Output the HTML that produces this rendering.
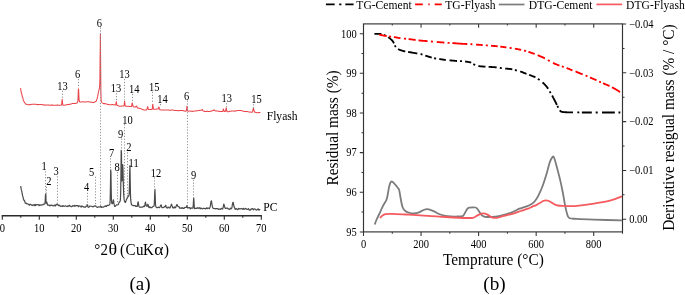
<!DOCTYPE html>
<html><head><meta charset="utf-8"><style>
html,body{margin:0;padding:0;background:#fff;}
body{width:685px;height:295px;overflow:hidden;}
svg{display:block;will-change:transform;}
text{font-family:"Liberation Serif",serif;fill:#000;}
</style></head><body>
<svg width="685" height="295" viewBox="0 0 685 295">

<line x1="1.6999999999999997" y1="215.75" x2="261.90000000000003" y2="215.75" stroke="#2a2a2a" stroke-width="1.3"/>
<path d="M2.3,215.75 V219.85 M20.8,215.75 V217.75 M39.3,215.75 V219.85 M57.8,215.75 V217.75 M76.3,215.75 V219.85 M94.8,215.75 V217.75 M113.3,215.75 V219.85 M131.8,215.75 V217.75 M150.3,215.75 V219.85 M168.8,215.75 V217.75 M187.3,215.75 V219.85 M205.8,215.75 V217.75 M224.3,215.75 V219.85 M242.8,215.75 V217.75 M261.3,215.75 V219.85" stroke="#2a2a2a" stroke-width="1.1" fill="none"/>
<text transform="translate(2.3,231.6) scale(1,1.12)" font-size="10.5" text-anchor="middle">0</text>
<text transform="translate(39.3,231.6) scale(1,1.12)" font-size="10.5" text-anchor="middle">10</text>
<text transform="translate(76.3,231.6) scale(1,1.12)" font-size="10.5" text-anchor="middle">20</text>
<text transform="translate(113.3,231.6) scale(1,1.12)" font-size="10.5" text-anchor="middle">30</text>
<text transform="translate(150.3,231.6) scale(1,1.12)" font-size="10.5" text-anchor="middle">40</text>
<text transform="translate(187.3,231.6) scale(1,1.12)" font-size="10.5" text-anchor="middle">50</text>
<text transform="translate(224.3,231.6) scale(1,1.12)" font-size="10.5" text-anchor="middle">60</text>
<text transform="translate(261.3,231.6) scale(1,1.12)" font-size="10.5" text-anchor="middle">70</text>
<text transform="translate(0,254.8) scale(1,1.07)" font-size="15"><tspan x="94.3">°</tspan><tspan x="100.4">2</tspan><tspan x="120.0">(</tspan><tspan x="125.5">C</tspan><tspan x="136.0">u</tspan><tspan x="142.9">K</tspan><tspan x="164.1">)</tspan></text>
<text transform="translate(108.4,254.8) scale(1.2,1.07)" font-size="15">θ</text>
<text transform="translate(154.2,254.8) scale(1.17,1.07)" font-size="15">α</text>
<text transform="translate(140,290.4) scale(1,1.03)" font-size="19" text-anchor="middle">(a)</text>
<path d="M20.4,88.08L20.65,88.74L20.9,90.39L21.15,92.22L21.4,93.35L21.65,93.67L21.9,94.68L22.15,95.99L22.4,96.84L22.65,97.12L22.9,98.16L23.15,99.53L23.4,100.41L23.65,100.6L23.9,101.2L24.15,101.98L24.4,102.49L24.65,102.58L24.9,102.8L25.15,103.17L25.4,103.59L25.65,103.95L25.9,104.15L26.15,104.19L26.4,104.24L26.65,104.32L26.9,104.4L27.15,104.49L27.4,104.57L27.65,104.62L27.9,104.65L28.15,104.65L28.4,104.65L28.65,104.65L28.9,104.65L29.15,104.65L29.4,104.64L29.65,104.64L29.9,104.63L30.15,104.62L30.4,104.59L30.65,104.56L30.9,104.51L31.15,104.46L31.4,104.4L31.65,104.35L31.9,104.3L32.15,104.27L32.4,104.24L32.65,104.23L32.9,104.22L33.15,104.21L33.4,104.2L33.65,104.19L33.9,104.18L34.15,104.17L34.4,104.16L34.65,104.16L34.9,104.16L35.15,104.16L35.4,104.18L35.65,104.23L35.9,104.28L36.15,104.35L36.4,104.42L36.65,104.49L36.9,104.55L37.15,104.59L37.4,104.62L37.65,104.63L37.9,104.63L38.15,104.62L38.4,104.59L38.65,104.57L38.9,104.54L39.15,104.51L39.4,104.49L39.65,104.48L39.9,104.49L40.15,104.5L40.4,104.52L40.65,104.54L40.9,104.55L41.15,104.57L41.4,104.58L41.65,104.6L41.9,104.61L42.15,104.63L42.4,104.65L42.65,104.66L42.9,104.7L43.15,104.75L43.4,104.81L43.65,104.88L43.9,104.95L44.15,105.01L44.4,105.07L44.65,105.11L44.9,105.13L45.15,105.14L45.4,105.13L45.65,105.1L45.9,105.07L46.15,105.03L46.4,104.99L46.65,104.95L46.9,104.92L47.15,104.9L47.4,104.9L47.65,104.9L47.9,104.92L48.15,104.94L48.4,104.97L48.65,105.01L48.9,105.05L49.15,105.08L49.4,105.12L49.65,105.14L49.9,105.16L50.15,105.17L50.4,105.17L50.65,105.17L50.9,105.16L51.15,105.14L51.4,105.13L51.65,105.11L51.9,105.1L52.15,105.1L52.4,105.11L52.65,105.12L52.9,105.14L53.15,105.16L53.4,105.18L53.65,105.2L53.9,105.23L54.15,105.25L54.4,105.27L54.65,105.29L54.9,105.3L55.15,105.31L55.4,105.3L55.65,105.29L55.9,105.26L56.15,105.23L56.4,105.2L56.65,105.17L56.9,105.14L57.15,105.12L57.4,105.12L57.65,105.12L57.9,105.13L58.15,105.15L58.4,105.18L58.65,105.21L58.9,105.25L59.15,105.28L59.4,105.3L59.65,105.31L59.9,105.31L60.15,105.3L60.4,105.29L60.65,105.28L60.9,105.27L61.15,105.23L61.4,105.11L61.65,104.44L61.9,102.1L62.15,99.32L62.4,100.78L62.65,103.75L62.9,104.97L63.15,105.2L63.4,105.23L63.65,105.24L63.9,105.23L64.15,105.21L64.4,105.19L64.65,105.15L64.9,105.12L65.15,105.08L65.4,105.04L65.65,104.99L65.9,104.94L66.15,104.89L66.4,104.84L66.65,104.79L66.9,104.73L67.15,104.68L67.4,104.62L67.65,104.56L67.9,104.51L68.15,104.47L68.4,104.43L68.65,104.41L68.9,104.39L69.15,104.38L69.4,104.37L69.65,104.35L69.9,104.33L70.15,104.29L70.4,104.24L70.65,104.17L70.9,104.08L71.15,103.98L71.4,103.88L71.65,103.78L71.9,103.68L72.15,103.6L72.4,103.52L72.65,103.47L72.9,103.43L73.15,103.41L73.4,103.41L73.65,103.42L73.9,103.44L74.15,103.46L74.4,103.47L74.65,103.49L74.9,103.49L75.15,103.48L75.4,103.46L75.65,103.41L75.9,103.34L76.15,103.26L76.4,103.16L76.65,103.04L76.9,102.91L77.15,102.75L77.4,102.54L77.65,102.08L77.9,100.34L78.15,95.33L78.4,88.85L78.65,89.74L78.9,96.32L79.15,100.41L79.4,101.57L79.65,101.8L79.9,101.89L80.15,101.94L80.4,101.97L80.65,101.97L80.9,101.97L81.15,101.95L81.4,101.93L81.65,101.9L81.9,101.87L82.15,101.85L82.4,101.83L82.65,101.82L82.9,101.82L83.15,101.84L83.4,101.87L83.65,101.91L83.9,101.95L84.15,101.99L84.4,102.02L84.65,102.03L84.9,102.03L85.15,102.01L85.4,101.97L85.65,101.94L85.9,101.89L86.15,101.85L86.4,101.8L86.65,101.76L86.9,101.72L87.15,101.7L87.4,101.68L87.65,101.68L87.9,101.68L88.15,101.69L88.4,101.72L88.65,101.75L88.9,101.78L89.15,101.82L89.4,101.86L89.65,101.9L89.9,101.94L90.15,101.98L90.4,102.02L90.65,102.07L90.9,102.12L91.15,102.18L91.4,102.23L91.65,102.28L91.9,102.32L92.15,102.36L92.4,102.39L92.65,102.42L92.9,102.43L93.15,102.44L93.4,102.43L93.65,102.42L93.9,102.39L94.15,102.3L94.4,102.17L94.65,102.01L94.9,101.83L95.15,101.66L95.4,101.52L95.65,101.42L95.9,101.38L96.15,101.26L96.4,100.59L96.65,99.72L96.9,99.15L97.15,98.7L97.4,97.12L97.65,96.41L97.9,95.22L98.15,93.37L98.4,92.43L98.65,91.67L98.9,90.18L99.15,89.08L99.4,88.37L99.65,86.54L99.9,79.36L100.15,54.87L100.4,33.65L100.65,65.12L100.9,92.85L101.15,100.08L101.4,101.56L101.65,102.04L101.9,102.34L102.15,102.6L102.4,102.83L102.65,103.04L102.9,103.23L103.15,103.4L103.4,103.52L103.65,103.61L103.9,103.64L104.15,103.63L104.4,103.62L104.65,103.63L104.9,103.64L105.15,103.67L105.4,103.72L105.65,103.77L105.9,103.85L106.15,103.92L106.4,104.01L106.65,104.09L106.9,104.17L107.15,104.25L107.4,104.31L107.65,104.37L107.9,104.42L108.15,104.47L108.4,104.52L108.65,104.57L108.9,104.62L109.15,104.67L109.4,104.71L109.65,104.75L109.9,104.8L110.15,104.83L110.4,104.84L110.65,104.84L110.9,104.81L111.15,104.77L111.4,104.73L111.65,104.68L111.9,104.64L112.15,104.6L112.4,104.59L112.65,104.6L112.9,104.62L113.15,104.64L113.4,104.67L113.65,104.71L113.9,104.75L114.15,104.79L114.4,104.83L114.65,104.88L114.9,104.92L115.15,104.96L115.4,104.98L115.65,104.91L115.9,104.14L116.15,102.03L116.4,101.69L116.65,103.98L116.9,105.15L117.15,105.41L117.4,105.5L117.65,105.57L117.9,105.65L118.15,105.73L118.4,105.82L118.65,105.92L118.9,106L119.15,106.08L119.4,106.15L119.65,106.19L119.9,106.21L120.15,106.21L120.4,106.2L120.65,106.18L120.9,106.15L121.15,106.12L121.4,106.08L121.65,106.05L121.9,106.03L122.15,106.02L122.4,106.02L122.65,106.02L122.9,106.04L123.15,106.05L123.4,106.05L123.65,106.03L123.9,105.86L124.15,104.9L124.4,102.53L124.65,101.37L124.9,103.64L125.15,105.54L125.4,106.1L125.65,106.2L125.9,106.22L126.15,106.22L126.4,106.21L126.65,106.2L126.9,106.19L127.15,106.18L127.4,106.18L127.65,106.2L127.9,106.22L128.15,106.25L128.4,106.29L128.65,106.33L128.9,106.37L129.15,106.42L129.4,106.46L129.65,106.49L129.9,106.51L130.15,106.53L130.4,106.53L130.65,106.52L130.9,106.5L131.15,106.44L131.4,106.29L131.65,105.77L131.9,104.6L132.15,103.2L132.4,103.06L132.65,104.43L132.9,105.8L133.15,106.51L133.4,106.77L133.65,106.88L133.9,106.95L134.15,107L134.4,107.03L134.65,107.06L134.9,107.06L135.15,107.06L135.4,107.04L135.65,106.96L135.9,106.73L136.15,106.33L136.4,106.03L136.65,106.2L136.9,106.79L137.15,107.37L137.4,107.76L137.65,107.97L137.9,108.1L138.15,108.18L138.4,108.25L138.65,108.29L138.9,108.32L139.15,108.32L139.4,108.34L139.65,108.37L139.9,108.41L140.15,108.47L140.4,108.54L140.65,108.63L140.9,108.74L141.15,108.86L141.4,108.98L141.65,109.1L141.9,109.23L142.15,109.35L142.4,109.46L142.65,109.56L142.9,109.65L143.15,109.72L143.4,109.79L143.65,109.85L143.9,109.89L144.15,109.92L144.4,109.95L144.65,109.96L144.9,109.97L145.15,109.96L145.4,109.95L145.65,109.94L145.9,109.93L146.15,109.9L146.4,109.85L146.65,109.73L146.9,109.34L147.15,108.41L147.4,107.12L147.65,106.61L147.9,107.51L148.15,108.65L148.4,109.27L148.65,109.45L148.9,109.47L149.15,109.46L149.4,109.45L149.65,109.44L149.9,109.44L150.15,109.44L150.4,109.44L150.65,109.44L150.9,109.44L151.15,109.44L151.4,109.44L151.65,109.42L151.9,109.37L152.15,109.17L152.4,107.97L152.65,104.8L152.9,104.21L153.15,107.42L153.4,108.99L153.65,109.25L153.9,109.28L154.15,109.28L154.4,109.27L154.65,109.26L154.9,109.26L155.15,109.26L155.4,109.24L155.65,109.22L155.9,109.19L156.15,109.15L156.4,109.11L156.65,109.08L156.9,109.06L157.15,109.05L157.4,109.06L157.65,109.06L157.9,109.05L158.15,108.9L158.4,108.37L158.65,107.5L158.9,107.02L159.15,107.68L159.4,108.73L159.65,109.4L159.9,109.68L160.15,109.78L160.4,109.83L160.65,109.88L160.9,109.92L161.15,109.95L161.4,109.98L161.65,110L161.9,110.01L162.15,110.02L162.4,110.02L162.65,110.03L162.9,110.03L163.15,110.03L163.4,110.03L163.65,110.04L163.9,110.04L164.15,110.04L164.4,110.05L164.65,110.06L164.9,110.07L165.15,110.08L165.4,110.08L165.65,110.08L165.9,110.07L166.15,110.06L166.4,110.04L166.65,110.03L166.9,110.02L167.15,110.02L167.4,110.03L167.65,110.04L167.9,110.06L168.15,110.07L168.4,110.09L168.65,110.12L168.9,110.14L169.15,110.15L169.4,110.17L169.65,110.18L169.9,110.19L170.15,110.2L170.4,110.19L170.65,110.16L170.9,110.13L171.15,110.09L171.4,110.06L171.65,110.03L171.9,110L172.15,109.99L172.4,109.99L172.65,110L172.9,110.04L173.15,110.08L173.4,110.14L173.65,110.21L173.9,110.28L174.15,110.35L174.4,110.41L174.65,110.46L174.9,110.5L175.15,110.53L175.4,110.54L175.65,110.56L175.9,110.57L176.15,110.57L176.4,110.58L176.65,110.58L176.9,110.59L177.15,110.6L177.4,110.62L177.65,110.64L177.9,110.65L178.15,110.65L178.4,110.65L178.65,110.64L178.9,110.63L179.15,110.61L179.4,110.6L179.65,110.59L179.9,110.59L180.15,110.59L180.4,110.58L180.65,110.58L180.9,110.57L181.15,110.57L181.4,110.56L181.65,110.56L181.9,110.56L182.15,110.57L182.4,110.58L182.65,110.6L182.9,110.64L183.15,110.7L183.4,110.76L183.65,110.84L183.9,110.92L184.15,110.99L184.4,111.05L184.65,111.1L184.9,111.12L185.15,111.12L185.4,111.12L185.65,111.12L185.9,111.09L186.15,111.02L186.4,110.61L186.65,108.96L186.9,106.35L187.15,106.8L187.4,109.49L187.65,110.85L187.9,111.15L188.15,111.2L188.4,111.19L188.65,111.16L188.9,111.13L189.15,111.09L189.4,111.06L189.65,111.04L189.9,111.04L190.15,111.06L190.4,111.09L190.65,111.14L190.9,111.19L191.15,111.24L191.4,111.29L191.65,111.34L191.9,111.37L192.15,111.39L192.4,111.39L192.65,111.37L192.9,111.34L193.15,111.3L193.4,111.25L193.65,111.2L193.9,111.14L194.15,111.09L194.4,111.05L194.65,111.01L194.9,110.99L195.15,110.97L195.4,110.95L195.65,110.93L195.9,110.91L196.15,110.89L196.4,110.86L196.65,110.83L196.9,110.79L197.15,110.75L197.4,110.71L197.65,110.67L197.9,110.63L198.15,110.59L198.4,110.56L198.65,110.52L198.9,110.48L199.15,110.45L199.4,110.41L199.65,110.38L199.9,110.35L200.15,110.32L200.4,110.3L200.65,110.3L200.9,110.31L201.15,110.29L201.4,110.22L201.65,110.04L201.9,109.77L202.15,109.55L202.4,109.62L202.65,110.02L202.9,110.51L203.15,110.9L203.4,111.14L203.65,111.26L203.9,111.32L204.15,111.34L204.4,111.37L204.65,111.39L204.9,111.42L205.15,111.44L205.4,111.46L205.65,111.46L205.9,111.44L206.15,111.42L206.4,111.39L206.65,111.37L206.9,111.35L207.15,111.34L207.4,111.34L207.65,111.36L207.9,111.38L208.15,111.41L208.4,111.44L208.65,111.47L208.9,111.49L209.15,111.51L209.4,111.51L209.65,111.5L209.9,111.47L210.15,111.42L210.4,111.35L210.65,111.28L210.9,111.19L211.15,111.09L211.4,110.99L211.65,110.9L211.9,110.81L212.15,110.74L212.4,110.68L212.65,110.63L212.9,110.58L213.15,110.5L213.4,110.33L213.65,110.09L213.9,109.86L214.15,109.83L214.4,110.06L214.65,110.39L214.9,110.67L215.15,110.83L215.4,110.9L215.65,110.93L215.9,110.94L216.15,110.95L216.4,110.95L216.65,110.95L216.9,110.96L217.15,110.98L217.4,111.01L217.65,111.04L217.9,111.09L218.15,111.14L218.4,111.2L218.65,111.27L218.9,111.33L219.15,111.38L219.4,111.43L219.65,111.46L219.9,111.48L220.15,111.48L220.4,111.48L220.65,111.49L220.9,111.5L221.15,111.51L221.4,111.52L221.65,111.53L221.9,111.54L222.15,111.55L222.4,111.53L222.65,111.42L222.9,110.94L223.15,109.82L223.4,109L223.65,109.78L223.9,110.86L224.15,111.33L224.4,111.43L224.65,111.44L224.9,111.44L225.15,111.43L225.4,111.33L225.65,110.81L225.9,109.38L226.15,107.95L226.4,108.74L226.65,110.51L226.9,111.44L227.15,111.7L227.4,111.76L227.65,111.78L227.9,111.76L228.15,111.73L228.4,111.67L228.65,111.61L228.9,111.54L229.15,111.47L229.4,111.41L229.65,111.35L229.9,111.31L230.15,111.28L230.4,111.25L230.65,111.21L230.9,111.17L231.15,111.12L231.4,111.08L231.65,111.04L231.9,111L232.15,110.97L232.4,110.95L232.65,110.93L232.9,110.93L233.15,110.94L233.4,110.97L233.65,111L233.9,111.04L234.15,111.08L234.4,111.11L234.65,111.12L234.9,111.12L235.15,111.1L235.4,111.06L235.65,111.01L235.9,110.95L236.15,110.88L236.4,110.81L236.65,110.73L236.9,110.66L237.15,110.61L237.4,110.56L237.65,110.53L237.9,110.5L238.15,110.48L238.4,110.47L238.65,110.46L238.9,110.45L239.15,110.45L239.4,110.45L239.65,110.45L239.9,110.45L240.15,110.45L240.4,110.46L240.65,110.49L240.9,110.53L241.15,110.58L241.4,110.64L241.65,110.7L241.9,110.76L242.15,110.83L242.4,110.9L242.65,110.96L242.9,111.03L243.15,111.1L243.4,111.18L243.65,111.26L243.9,111.34L244.15,111.41L244.4,111.47L244.65,111.53L244.9,111.57L245.15,111.6L245.4,111.61L245.65,111.6L245.9,111.58L246.15,111.55L246.4,111.53L246.65,111.52L246.9,111.53L247.15,111.56L247.4,111.61L247.65,111.67L247.9,111.74L248.15,111.8L248.4,111.86L248.65,111.91L248.9,111.95L249.15,111.99L249.4,112.02L249.65,112.04L249.9,112.04L250.15,112.04L250.4,112.06L250.65,112.1L250.9,112.15L251.15,112.2L251.4,112.26L251.65,112.3L251.9,112.31L252.15,112.22L252.4,111.92L252.65,111.21L252.9,110.04L253.15,108.74L253.4,108.11L253.65,108.69L253.9,109.94L254.15,111.07L254.4,111.77L254.65,112.09L254.9,112.22L255.15,112.28L255.4,112.33L255.65,112.38L255.9,112.44L256.15,112.5L256.4,112.56L256.65,112.61L256.9,112.65L257.15,112.68L257.4,112.68L257.65,112.67L257.9,112.66L258.15,112.64L258.4,112.61L258.65,112.59L258.9,112.57L259.15,112.55L259.4,112.53L259.65,112.51L259.9,112.5L260.15,112.49L260.4,112.48" stroke="#e94449" stroke-width="1.05" fill="none" stroke-linejoin="round"/>
<path d="M20.7,185.97L20.95,187.54L21.2,189.21L21.45,190.39L21.7,191.04L21.95,192.23L22.2,193.66L22.45,195.1L22.7,196L22.95,196.8L23.2,197.96L23.45,199.15L23.7,200.02L23.95,200.24L24.2,200.18L24.45,200.44L24.7,201.17L24.95,202.19L25.2,202.97L25.45,203.16L25.7,202.9L25.95,202.8L26.2,203.14L26.45,203.61L26.7,203.84L26.95,203.78L27.2,203.71L27.45,203.85L27.7,203.98L27.95,204.04L28.2,204.14L28.45,204.43L28.7,204.59L28.95,204.78L29.2,205.13L29.45,205.25L29.7,204.84L29.95,204.29L30.2,204.19L30.45,204.28L30.7,204.37L30.95,204.46L31.2,204.8L31.45,205.06L31.7,205.17L31.95,205.45L32.2,205.61L32.45,205.44L32.7,205.13L32.95,205.02L33.2,204.91L33.45,204.77L33.7,204.79L33.95,205.22L34.2,205.65L34.45,205.55L34.7,204.82L34.95,204.28L35.2,204.52L35.45,205.23L35.7,205.61L35.95,205.38L36.2,204.91L36.45,204.76L36.7,204.69L36.95,204.59L37.2,204.58L37.45,204.57L37.7,204.56L37.95,204.6L38.2,204.76L38.45,204.88L38.7,205.04L38.95,205.46L39.2,205.69L39.45,205.39L39.7,204.84L39.95,204.64L40.2,204.86L40.45,205.16L40.7,205.21L40.95,205.22L41.2,205.24L41.45,205.17L41.7,204.93L41.95,204.74L42.2,204.77L42.45,204.9L42.7,204.95L42.95,204.72L43.2,204.29L43.45,204.13L43.7,204.11L43.95,204.08L44.2,204.06L44.45,204.1L44.7,204.07L44.95,203.47L45.2,200.74L45.45,194.84L45.7,193.77L45.95,199.63L46.2,203.21L46.45,203.28L46.7,202.02L46.95,202.32L47.2,203.97L47.45,204.95L47.7,205.19L47.95,205.17L48.2,205.13L48.45,205.13L48.7,205.04L48.95,204.97L49.2,205.14L49.45,205.58L49.7,205.82L49.95,205.79L50.2,205.72L50.45,205.69L50.7,205.42L50.95,205.05L51.2,205L51.45,205.24L51.7,205.47L51.95,205.49L52.2,205.44L52.45,205.41L52.7,205.51L52.95,205.8L53.2,205.95L53.45,205.88L53.7,205.75L53.95,205.69L54.2,205.42L54.45,205.06L54.7,205.03L54.95,205.52L55.2,206.01L55.45,205.91L55.7,205.21L55.95,204.68L56.2,204.72L56.45,204.89L56.7,204.69L56.95,204.07L57.2,203.81L57.45,204.47L57.7,204.92L57.95,204.83L58.2,204.9L58.45,205.24L58.7,205.58L58.95,205.61L59.2,205.32L59.45,205.11L59.7,205.32L59.95,205.87L60.2,206.16L60.45,206.2L60.7,206.29L60.95,206.31L61.2,206.2L61.45,206.04L61.7,206.03L61.95,206.25L62.2,206.47L62.45,206.4L62.7,205.95L62.95,205.61L63.2,205.71L63.45,206.03L63.7,206.21L63.95,206.16L64.2,206.08L64.45,206.05L64.7,206.04L64.95,206.03L65.2,206.01L65.45,205.92L65.7,205.84L65.95,205.89L66.2,206.2L66.45,206.43L66.7,206.47L66.95,206.56L67.2,206.61L67.45,206.39L67.7,206L67.95,205.86L68.2,205.97L68.45,206.13L68.7,206.11L68.95,205.68L69.2,205.24L69.45,205.3L69.7,205.82L69.95,206.21L70.2,206.2L70.45,206.16L70.7,206.13L70.95,206.29L71.2,206.59L71.45,206.7L71.7,206.6L71.95,206.47L72.2,206.4L72.45,206.03L72.7,205.65L72.95,205.63L73.2,205.73L73.45,205.8L73.7,205.9L73.95,206.15L74.2,206.29L74.45,206.01L74.7,205.48L74.95,205.31L75.2,205.59L75.45,205.96L75.7,206.03L75.95,205.84L76.2,205.64L76.45,205.63L76.7,205.61L76.95,205.59L77.2,205.59L77.45,205.56L77.7,205.55L77.95,205.89L78.2,206.51L78.45,206.73L78.7,206.36L78.95,205.87L79.2,205.78L79.45,205.88L79.7,205.99L79.95,206.04L80.2,206.17L80.45,206.27L80.7,206.43L80.95,206.85L81.2,207.08L81.45,206.74L81.7,206.08L81.95,205.86L82.2,206.09L82.45,206.4L82.7,206.48L82.95,206.56L83.2,206.64L83.45,206.71L83.7,206.98L83.95,207.19L84.2,207.18L84.45,207.12L84.7,207.09L84.95,207.11L85.2,207.15L85.45,207.15L85.7,206.79L85.95,206.31L86.2,206.2L86.45,206.25L86.7,206.13L86.95,205.46L87.2,204.53L87.45,204.64L87.7,205.72L87.95,206.74L88.2,207.15L88.45,207.22L88.7,207.3L88.95,207.32L89.2,206.84L89.45,206.2L89.7,206.07L89.95,206.09L90.2,206.12L90.45,206.13L90.7,206.18L90.95,206.22L91.2,206.23L91.45,206.24L91.7,206.24L91.95,206.36L92.2,206.58L92.45,206.66L92.7,206.73L92.95,206.82L93.2,206.81L93.45,206.58L93.7,206.35L93.95,206.28L94.2,206.08L94.45,205.92L94.7,206.01L94.95,206.25L95.2,206.13L95.45,205.8L95.7,205.92L95.95,206.28L96.2,206.59L96.45,206.8L96.7,206.88L96.95,207.17L97.2,207.45L97.45,207.44L97.7,207.23L97.95,207.08L98.2,207.02L98.45,206.88L98.7,206.8L98.95,206.85L99.2,206.93L99.45,206.97L99.7,207L99.95,207.05L100.2,207.01L100.45,206.56L100.7,206.1L100.95,206.19L101.2,206.86L101.45,207.36L101.7,207.32L101.95,207.21L102.2,207.14L102.45,207.16L102.7,207.22L102.95,207.23L103.2,207.17L103.45,207.09L103.7,207.03L103.95,206.73L104.2,206.43L104.45,206.39L104.7,206.38L104.95,206.38L105.2,206.29L105.45,206.02L105.7,205.85L105.95,206.05L106.2,206.45L106.45,206.54L106.7,206.13L106.95,205.61L107.2,205.44L107.45,205.37L107.7,205.3L107.95,205.26L108.2,205.3L108.45,205.32L108.7,205.24L108.95,205.12L109.2,204.98L109.45,204.86L109.7,204.63L109.95,203.65L110.2,199.19L110.45,186.29L110.7,169.83L110.95,172.19L111.2,189.04L111.45,199.58L111.7,202.75L111.95,203.48L112.2,203.69L112.45,203.68L112.7,203.26L112.95,202.06L113.2,200.37L113.45,199.86L113.7,201.48L113.95,203.41L114.2,204.66L114.45,205.71L114.7,206.43L114.95,206.46L115.2,206.22L115.45,206.01L115.7,205.79L115.95,205.31L116.2,205.01L116.45,204.96L116.7,204.97L116.95,204.93L117.2,204.93L117.45,204.97L117.7,204.93L117.95,204.79L118.2,204.55L118.45,204.2L118.7,203.62L118.95,202.9L119.2,202.23L119.45,201.89L119.7,201.76L119.95,201.56L120.2,200.88L120.45,198.81L120.7,191.87L120.95,173.54L121.2,150.35L121.45,152.25L121.7,172.38L121.95,180.91L122.2,176.27L122.45,168.27L122.7,164.57L122.95,168.72L123.2,178.26L123.45,187.99L123.7,194.61L123.95,197.75L124.2,199.89L124.45,201.06L124.7,201.35L124.95,201.9L125.2,202.4L125.45,202.4L125.7,201.8L125.95,200.99L126.2,200.3L126.45,199.5L126.7,198.85L126.95,198.77L127.2,198.55L127.45,196.95L127.7,195.79L127.95,196.11L128.2,196.6L128.45,196.5L128.7,196L128.95,195.43L129.2,193.57L129.45,185.96L129.7,171.23L129.95,165.58L130.2,179.7L130.45,193.51L130.7,199.16L130.95,201.58L131.2,203.47L131.45,204.7L131.7,204.92L131.95,205L132.2,205.12L132.45,205.32L132.7,205.44L132.95,205.59L133.2,205.69L133.45,205.51L133.7,205.45L133.95,205.55L134.2,205.65L134.45,205.69L134.7,205.59L134.95,205.45L135.2,205.48L135.45,205.94L135.7,206.41L135.95,206.44L136.2,206.28L136.45,206.16L136.7,206.25L136.95,206.46L137.2,206.48L137.45,205.81L137.7,204.09L137.95,202.11L138.2,201.82L138.45,203.52L138.7,205.14L138.95,206.24L139.2,206.85L139.45,206.99L139.7,207.16L139.95,207.29L140.2,207.26L140.45,207.16L140.7,207.11L140.95,207.09L141.2,207.06L141.45,207.06L141.7,207.07L141.95,207.09L142.2,207.09L142.45,207.05L142.7,207L142.95,206.91L143.2,206.51L143.45,206.2L143.7,206.28L143.95,206.52L144.2,206.62L144.45,206.44L144.7,205.86L144.95,204.7L145.2,202.96L145.45,202.13L145.7,203.28L145.95,204.77L146.2,205.6L146.45,205.93L146.7,206.21L146.95,206.35L147.2,206.2L147.45,205.7L147.7,204.78L147.95,204.24L148.2,204.99L148.45,206.11L148.7,206.97L148.95,207.47L149.2,207.57L149.45,207.23L149.7,206.88L149.95,206.93L150.2,207.33L150.45,207.63L150.7,207.65L150.95,207.7L151.2,207.72L151.45,207.71L151.7,207.68L151.95,207.66L152.2,207.3L152.45,206.82L152.7,206.69L152.95,206.57L153.2,206.44L153.45,206.37L153.7,206.28L153.95,206.04L154.2,204.95L154.45,200.81L154.7,192.87L154.95,189.42L155.2,196.25L155.45,203.05L155.7,205.9L155.95,206.84L156.2,207.11L156.45,207.4L156.7,207.66L156.95,207.72L157.2,207.7L157.45,207.69L157.7,207.6L157.95,207.31L158.2,207.16L158.45,207.25L158.7,207.4L158.95,207.46L159.2,207.54L159.45,207.65L159.7,207.6L159.95,207.02L160.2,206.3L160.45,205.83L160.7,205.42L160.95,204.91L161.2,204.89L161.45,205.88L161.7,206.91L161.95,207.44L162.2,207.59L162.45,207.64L162.7,207.65L162.95,207.64L163.2,207.63L163.45,207.44L163.7,207.24L163.95,207.17L164.2,206.91L164.45,206.69L164.7,206.72L164.95,206.88L165.2,206.54L165.45,205.72L165.7,205.27L165.95,205.69L166.2,206.63L166.45,207.43L166.7,207.71L166.95,207.9L167.2,208.05L167.45,207.98L167.7,207.52L167.95,207.18L168.2,207.18L168.45,207.18L168.7,207.19L168.95,207.43L169.2,207.89L169.45,208.04L169.7,207.9L169.95,207.71L170.2,207.59L170.45,207.09L170.7,206.41L170.95,205.74L171.2,204.84L171.45,204.21L171.7,204.51L171.95,205.39L172.2,206.16L172.45,206.92L172.7,207.72L172.95,208.01L173.2,207.98L173.45,207.92L173.7,207.86L173.95,207.4L174.2,206.92L174.45,206.99L174.7,207.51L174.95,207.86L175.2,207.79L175.45,207.71L175.7,207.45L175.95,206.85L176.2,206.04L176.45,205.42L176.7,204.86L176.95,204.52L177.2,204.73L177.45,205.35L177.7,206.06L177.95,206.54L178.2,206.63L178.45,206.69L178.7,206.84L178.95,206.86L179.2,206.88L179.45,207.35L179.7,208.18L179.95,208.47L180.2,208.29L180.45,208.04L180.7,207.98L180.95,207.9L181.2,207.81L181.45,207.88L181.7,208.22L181.95,208.47L182.2,208.33L182.45,207.91L182.7,207.69L182.95,207.9L183.2,208.28L183.45,208.41L183.7,208.39L183.95,208.37L184.2,208.32L184.45,207.88L184.7,207.44L184.95,207.41L185.2,207.45L185.45,207.48L185.7,207.49L185.95,207.5L186.2,207.41L186.45,206.93L186.7,205.98L186.95,205.59L187.2,206.59L187.45,207.66L187.7,208L187.95,207.84L188.2,207.64L188.45,207.66L188.7,207.81L188.95,207.92L189.2,207.85L189.45,207.62L189.7,207.51L189.95,207.87L190.2,208.54L190.45,208.77L190.7,208.45L190.95,208.01L191.2,207.93L191.45,208L191.7,208.08L191.95,208.1L192.2,208.18L192.45,208.21L192.7,208.2L192.95,208L193.2,206.18L193.45,201.48L193.7,197.85L193.95,200.96L194.2,205.76L194.45,208.15L194.7,208.7L194.95,208.53L195.2,208.29L195.45,208.31L195.7,208.37L195.95,208.41L196.2,208.43L196.45,208.44L196.7,208.44L196.95,208.23L197.2,207.81L197.45,207.68L197.7,207.94L197.95,208.28L198.2,208.34L198.45,208.16L198.7,207.98L198.95,207.93L199.2,207.79L199.45,207.69L199.7,207.92L199.95,208.6L200.2,208.96L200.45,208.67L200.7,208.14L200.95,207.96L201.2,208.14L201.45,208.38L201.7,208.46L201.95,208.64L202.2,208.82L202.45,208.81L202.7,208.68L202.95,208.57L203.2,208.5L203.45,208.31L203.7,208.2L203.95,208.29L204.2,208.45L204.45,208.51L204.7,208.54L204.95,208.56L205.2,208.59L205.45,208.75L205.7,208.92L205.95,208.82L206.2,208.27L206.45,207.86L206.7,207.98L206.95,208.36L207.2,208.56L207.45,208.41L207.7,208.14L207.95,208.04L208.2,208.04L208.45,208.05L208.7,208.07L208.95,208.38L209.2,208.68L209.45,208.53L209.7,208.05L209.95,207.35L210.2,206.43L210.45,205.08L210.7,203.36L210.95,201.74L211.2,200.85L211.45,201.04L211.7,202.39L211.95,204.28L212.2,205.97L212.45,206.94L212.7,207.45L212.95,207.93L213.2,208.31L213.45,208.53L213.7,208.57L213.95,208.52L214.2,208.5L214.45,208.53L214.7,208.55L214.95,208.57L215.2,208.7L215.45,208.85L215.7,208.88L215.95,208.71L216.2,208.55L216.45,208.55L216.7,208.62L216.95,208.68L217.2,208.67L217.45,208.63L217.7,208.61L217.95,208.82L218.2,209.22L218.45,209.36L218.7,209.22L218.95,209.03L219.2,209L219.45,209.13L219.7,209.26L219.95,209.29L220.2,209.34L220.45,209.38L220.7,209.17L220.95,208.59L221.2,208.28L221.45,208.4L221.7,208.64L221.95,208.72L222.2,208.89L222.45,209.06L222.7,208.8L222.95,208.1L223.2,207.06L223.45,205.82L223.7,204.48L223.95,204.16L224.2,205.04L224.45,206.14L224.7,207.04L224.95,207.74L225.2,208.29L225.45,208.5L225.7,208.33L225.95,208.06L226.2,208.02L226.45,208.16L226.7,208.29L226.95,208.28L227.2,208.15L227.45,208.05L227.7,208.23L227.95,208.73L228.2,209L228.45,209.05L228.7,209.15L228.95,209.18L229.2,209.24L229.45,209.33L229.7,209.28L229.95,208.73L230.2,208.18L230.45,208.2L230.7,208.63L230.95,208.92L231.2,208.83L231.45,208.61L231.7,208.23L231.95,207.31L232.2,205.75L232.45,204.09L232.7,202.91L232.95,202.32L233.2,202.33L233.45,203.41L233.7,205.08L233.95,206.53L234.2,207.14L234.45,207.46L234.7,208.09L234.95,208.92L235.2,209.35L235.45,209.16L235.7,208.72L235.95,208.59L236.2,208.66L236.45,208.75L236.7,208.82L236.95,209.2L237.2,209.58L237.45,209.6L237.7,209.49L237.95,209.4L238.2,209.21L238.45,208.65L238.7,208.36L238.95,208.49L239.2,208.73L239.45,208.82L239.7,208.88L239.95,208.96L240.2,208.97L240.45,208.85L240.7,208.73L240.95,208.7L241.2,208.6L241.45,208.52L241.7,208.56L241.95,208.68L242.2,208.74L242.45,208.94L242.7,209.29L242.95,209.4L243.2,208.99L243.45,208.44L243.7,208.36L243.95,208.76L244.2,209.15L244.45,209.19L244.7,209.1L244.95,209.05L245.2,208.93L245.45,208.58L245.7,208.4L245.95,208.55L246.2,208.82L246.45,208.93L246.7,209.12L246.95,209.36L247.2,209.41L247.45,209.34L247.7,209.27L247.95,209.19L248.2,208.84L248.45,208.58L248.7,208.86L248.95,209.64L249.2,210.07L249.45,209.99L249.7,209.83L249.95,209.78L250.2,209.9L250.45,210.06L250.7,210.03L250.95,209.41L251.2,208.79L251.45,208.76L251.7,208.9L251.95,209L252.2,208.94L252.45,208.76L252.7,208.66L252.95,209L253.2,209.63L253.45,209.85L253.7,209.55L253.95,209.15L254.2,209.05L254.45,208.96L254.7,208.86L254.95,208.91L255.2,209.15L255.45,209.33L255.7,209.48L255.95,209.9L256.2,210.13L256.45,210.09L256.7,210.01L256.95,209.98L257.2,209.64L257.45,209.2L257.7,209.09L257.95,209.02L258.2,208.94L258.45,209.07L258.7,209.69L258.95,210.15L259.2,210.06L259.45,209.77L259.7,209.61L259.95,209.67L260.2,209.78" stroke="#4a4a4a" stroke-width="1.2" fill="none" stroke-linejoin="round"/>
<path d="M100.5,27.5 V206 M187.5,100.5 V207.5 M62.5,90.8 V99.5 M78.5,79 V88 M116.5,93.2 V100.8 M124.5,79 V100.8 M132.5,94 V102.4 M152.5,91.9 V103.3 M160.5,104 V106.6 M226.5,103.2 V107.6 M253.5,104.2 V108.5 M45.5,171.3 V192.2 M46.5,186.8 V201.4 M57.5,176.3 V202.8 M87.5,192.8 V205 M95.5,176.8 V205 M110.5,158.3 V168.7 M117.5,172 V205 M121.5,138.5 V148.6 M124.5,124.2 V200 M127.5,152.3 V199 M154.5,177.5 V189.6 M193.5,179.7 V196.3" stroke="#8c8c8c" stroke-width="0.95" stroke-dasharray="1.2 1.7" fill="none"/>
<text transform="translate(99.3,26.6) scale(1,1.12)" font-size="10.5" text-anchor="middle">6</text>
<text transform="translate(62.5,89.8) scale(1,1.12)" font-size="10.5" text-anchor="middle">13</text>
<text transform="translate(77.6,77.9) scale(1,1.12)" font-size="10.5" text-anchor="middle">6</text>
<text transform="translate(116.1,92.3) scale(1,1.12)" font-size="10.5" text-anchor="middle">13</text>
<text transform="translate(124.6,77.9) scale(1,1.12)" font-size="10.5" text-anchor="middle">13</text>
<text transform="translate(134.3,93) scale(1,1.12)" font-size="10.5" text-anchor="middle">14</text>
<text transform="translate(154.3,90.9) scale(1,1.12)" font-size="10.5" text-anchor="middle">15</text>
<text transform="translate(162.4,102.9) scale(1,1.12)" font-size="10.5" text-anchor="middle">14</text>
<text transform="translate(186.5,99.8) scale(1,1.12)" font-size="10.5" text-anchor="middle">6</text>
<text transform="translate(226.7,102.2) scale(1,1.12)" font-size="10.5" text-anchor="middle">13</text>
<text transform="translate(256.5,103.2) scale(1,1.12)" font-size="10.5" text-anchor="middle">15</text>
<text transform="translate(44.2,170.3) scale(1,1.12)" font-size="10.5" text-anchor="middle">1</text>
<text transform="translate(48.8,185.2) scale(1,1.12)" font-size="10.5" text-anchor="middle">2</text>
<text transform="translate(56.1,175.3) scale(1,1.12)" font-size="10.5" text-anchor="middle">3</text>
<text transform="translate(86.6,191.3) scale(1,1.12)" font-size="10.5" text-anchor="middle">4</text>
<text transform="translate(91.5,176.4) scale(1,1.12)" font-size="10.5" text-anchor="middle">5</text>
<text transform="translate(111.5,157.3) scale(1,1.12)" font-size="10.5" text-anchor="middle">7</text>
<text transform="translate(117,171) scale(1,1.12)" font-size="10.5" text-anchor="middle">8</text>
<text transform="translate(120.5,137.5) scale(1,1.12)" font-size="10.5" text-anchor="middle">9</text>
<text transform="translate(127.6,123.5) scale(1,1.12)" font-size="10.5" text-anchor="middle">10</text>
<text transform="translate(128.8,151.3) scale(1,1.12)" font-size="10.5" text-anchor="middle">2</text>
<text transform="translate(133.6,167) scale(1,1.12)" font-size="10.5" text-anchor="middle">11</text>
<text transform="translate(155.9,176.5) scale(1,1.12)" font-size="10.5" text-anchor="middle">12</text>
<text transform="translate(193.6,178.7) scale(1,1.12)" font-size="10.5" text-anchor="middle">9</text>
<text transform="translate(266.7,119.5) scale(1,1.1)" font-size="11.6">Flyash</text>
<text transform="translate(263.2,210.9) scale(1,1.1)" font-size="11.6">PC</text>
<path d="M374.8,224.5 C375.03,223.83 375.53,222.08 376.2,220.5 C376.87,218.92 377.68,217.38 378.8,215 C379.92,212.62 381.65,208.68 382.9,206.2 C384.15,203.72 385.52,201.92 386.3,200.1 C387.08,198.28 387.15,197.42 387.6,195.3 C388.05,193.18 388.55,189.48 389,187.4 C389.45,185.32 389.85,183.78 390.3,182.8 C390.75,181.82 391.13,181.5 391.7,181.5 C392.27,181.5 392.98,182.13 393.7,182.8 C394.42,183.47 395.32,184.65 396,185.5 C396.68,186.35 397.27,187.12 397.8,187.9 C398.33,188.68 398.75,188.6 399.2,190.2 C399.65,191.8 399.95,194.7 400.5,197.5 C401.05,200.3 401.7,204.75 402.5,207 C403.3,209.25 404.05,210 405.3,211 C406.55,212 408.55,212.6 410,213 C411.45,213.4 412.5,213.52 414,213.4 C415.5,213.28 417.43,212.85 419,212.3 C420.57,211.75 421.98,210.63 423.4,210.1 C424.82,209.57 425.8,208.92 427.5,209.1 C429.2,209.28 431.47,210.3 433.6,211.2 C435.73,212.1 437.48,213.62 440.3,214.5 C443.12,215.38 447.38,216.17 450.5,216.5 C453.62,216.83 456.88,216.63 459,216.5 C461.12,216.37 462.12,216.47 463.2,215.7 C464.28,214.93 464.78,213.08 465.5,211.9 C466.22,210.72 466.83,209.32 467.5,208.6 C468.17,207.88 468.6,207.82 469.5,207.6 C470.4,207.38 471.9,207.32 472.9,207.3 C473.9,207.28 474.82,207.32 475.5,207.5 C476.18,207.68 476.42,207.78 477,208.4 C477.58,209.02 478.33,210.2 479,211.2 C479.67,212.2 480.25,213.55 481,214.4 C481.75,215.25 482.5,215.87 483.5,216.3 C484.5,216.73 485.02,216.95 487,217 C488.98,217.05 492.58,216.97 495.4,216.6 C498.22,216.23 501.25,215.47 503.9,214.8 C506.55,214.13 509.4,213.28 511.3,212.6 C513.2,211.92 513.95,211.35 515.3,210.7 C516.65,210.05 518.03,209.27 519.4,208.7 C520.77,208.13 522.15,207.73 523.5,207.3 C524.85,206.87 526.15,206.63 527.5,206.1 C528.85,205.57 530.38,204.9 531.6,204.1 C532.82,203.3 533.65,202.77 534.8,201.3 C535.95,199.83 537.18,197.9 538.5,195.3 C539.82,192.7 541.35,189.28 542.7,185.7 C544.05,182.12 545.43,177.67 546.6,173.8 C547.77,169.93 548.7,165.32 549.7,162.5 C550.7,159.68 551.85,157.65 552.6,156.9 C553.35,156.15 553.5,156.32 554.2,158 C554.9,159.68 555.78,163.23 556.8,167 C557.82,170.77 559.3,176.35 560.3,180.6 C561.3,184.85 562.02,188.43 562.8,192.5 C563.58,196.57 564.3,201.5 565,205 C565.7,208.5 566.3,211.33 567,213.5 C567.7,215.67 567.53,217.1 569.2,218 C570.87,218.9 572.88,218.63 577,218.9 C581.12,219.17 586.42,219.35 593.9,219.6 C601.38,219.85 617.23,220.27 621.9,220.4" stroke="#7c7c7c" stroke-width="1.8" fill="none" stroke-linejoin="round"/>
<path d="M380,218 C380.33,217.65 381.07,216.53 382,215.9 C382.93,215.27 383.93,214.53 385.6,214.2 C387.27,213.87 388.65,213.85 392,213.9 C395.35,213.95 401.03,214.27 405.7,214.5 C410.37,214.73 414.8,214.98 420,215.3 C425.2,215.62 431.25,216.03 436.9,216.4 C442.55,216.77 448.25,217.23 453.9,217.5 C459.55,217.77 467.45,218 470.8,218 C474.15,218 472.72,218.03 474,217.5 C475.28,216.97 476.93,215.48 478.5,214.8 C480.07,214.12 481.83,213.38 483.4,213.4 C484.97,213.42 486.5,214.25 487.9,214.9 C489.3,215.55 490.28,216.82 491.8,217.3 C493.32,217.78 494.98,218.03 497,217.8 C499.02,217.57 501.33,216.57 503.9,215.9 C506.47,215.23 509.58,214.62 512.4,213.8 C515.22,212.98 518.2,211.87 520.8,211 C523.4,210.13 526.13,209.3 528,208.6 C529.87,207.9 530.65,207.38 532,206.8 C533.35,206.22 534.7,205.78 536.1,205.1 C537.5,204.42 539.23,203.38 540.4,202.7 C541.57,202.02 542.18,201.38 543.1,201 C544.02,200.62 544.93,200.4 545.9,200.4 C546.87,200.4 547.88,200.6 548.9,201 C549.92,201.4 550.98,202.2 552,202.8 C553.02,203.4 554,204.15 555,204.6 C556,205.05 556.58,205.28 558,205.5 C559.42,205.72 561.5,205.8 563.5,205.9 C565.5,206 567.75,206.1 570,206.1 C572.25,206.1 573.02,206.32 577,205.9 C580.98,205.48 588.27,204.52 593.9,203.6 C599.53,202.68 606.13,201.6 610.8,200.4 C615.47,199.2 620.05,197.07 621.9,196.4" stroke="#f45a5e" stroke-width="1.8" fill="none" stroke-linejoin="round"/>
<path d="M374.4,33.9 L374.44,33.9 L374.58,33.9 L374.76,33.9 L374.95,33.9 L375.17,33.9 L375.41,33.9 L375.66,33.89 L375.93,33.89 L376.19,33.89 L376.46,33.89 L376.73,33.89 L377,33.89 L377.26,33.9 L377.5,33.9 L377.74,33.9 L377.98,33.9 L378.22,33.9 L378.47,33.9 L378.71,33.9 L378.96,33.9 L379.2,33.91 L379.44,33.91 L379.69,33.92 L379.93,33.93 L380.16,33.95 L380.4,33.97 L380.62,33.99 L380.85,34.02 L381.06,34.05 L381.26,34.08 L381.46,34.11 L381.5,34.11 M383.89,34.87 L383.97,34.9 L384.28,35.04 L384.61,35.19 L384.95,35.36 L385.29,35.52 L385.64,35.7 L385.7,35.73 M388.2,37.15 L388.24,37.18 L388.49,37.35 L388.74,37.52 L388.97,37.69 L389.2,37.86 L389.43,38.03 L389.64,38.2 L389.85,38.38 L390.06,38.55 L390.27,38.73 L390.47,38.9 L390.67,39.08 L390.87,39.26 L391.06,39.44 L391.25,39.61 L391.44,39.78 L391.62,39.95 L391.79,40.12 L391.97,40.3 L392.14,40.48 L392.3,40.66 L392.47,40.85 L392.63,41.05 L392.79,41.25 L392.95,41.47 L393.1,41.7 L393.25,41.95 L393.4,42.22 L393.55,42.5 L393.69,42.8 L393.83,43.1 L393.9,43.26 M394.82,45.35 L394.86,45.42 L394.98,45.64 L395.09,45.85 L395.19,46.04 L395.29,46.21 L395.39,46.38 L395.48,46.53 L395.57,46.68 L395.67,46.82 L395.77,46.96 L395.84,47.06 M398.1,49.09 L398.18,49.13 L398.42,49.26 L398.68,49.39 L398.97,49.52 L399.28,49.65 L399.61,49.79 L399.96,49.93 L400.32,50.06 L400.69,50.2 L401.07,50.33 L401.45,50.46 L401.83,50.59 L402.21,50.71 L402.59,50.83 L402.96,50.93 L403.32,51.03 L403.66,51.12 L403.98,51.2 L404.29,51.26 L404.59,51.33 L404.9,51.38 L405.21,51.44 L405.3,51.45 M408.1,51.92 L408.18,51.93 L408.77,52.04 L409.42,52.15 L410.13,52.27 L410.87,52.4 L411.64,52.53 L412.42,52.66 L413.21,52.8 L413.99,52.93 L414.74,53.06 L415.46,53.18 L416.14,53.3 L416.75,53.4 L417.3,53.5 M420.53,54.07 L420.6,54.08 L420.85,54.14 L421.12,54.2 L421.4,54.27 L421.7,54.35 L421.98,54.43 L422.24,54.52 L422.46,54.59 M425.3,55.6 L425.43,55.64 L425.85,55.78 L426.3,55.92 L426.79,56.08 L427.29,56.24 L427.82,56.41 L428.35,56.58 L428.88,56.74 L429.41,56.91 L429.92,57.07 L430.41,57.22 L430.88,57.36 L431.31,57.49 L431.7,57.6 M434.12,58.21 L434.19,58.23 L434.42,58.27 L434.66,58.32 L434.92,58.37 L435.19,58.42 L435.48,58.47 L435.76,58.51 L436.04,58.55 L436.09,58.56 M439.3,59 L439.44,59.02 L439.87,59.09 L440.34,59.16 L440.83,59.24 L441.34,59.32 L441.87,59.4 L442.4,59.49 L442.94,59.58 L443.47,59.66 L443.98,59.74 L444.48,59.81 L444.95,59.88 L445.4,59.95 L445.8,60 M449.5,60.3 L449.64,60.31 L450.11,60.36 L450.63,60.41 L451.19,60.46 L451.78,60.52 L452.39,60.58 L453.02,60.64 L453.65,60.7 L454.28,60.76 L454.89,60.82 L455.47,60.88 L456.03,60.92 L456.54,60.97 L457,61 M460,61.07 L460.07,61.07 L460.34,61.07 L460.61,61.08 L460.9,61.09 L461.2,61.11 L461.51,61.13 L461.82,61.16 L462,61.17 M465.1,61.5 L465.2,61.51 L465.51,61.55 L465.82,61.59 L466.13,61.64 L466.44,61.68 L466.76,61.73 L467.07,61.77 L467.37,61.82 L467.67,61.87 L467.96,61.91 L468.24,61.96 L468.51,62.01 L468.76,62.05 L469,62.1 L469.22,62.14 L469.41,62.18 L469.59,62.21 L469.76,62.24 L469.91,62.27 L470.06,62.3 L470.2,62.33 L470.34,62.37 L470.49,62.41 L470.63,62.46 L470.79,62.52 L470.96,62.59 L471.14,62.67 L471.2,62.7 M473.33,64.12 L473.35,64.13 L473.59,64.28 L473.85,64.42 L474.11,64.56 L474.38,64.68 L474.65,64.8 L474.92,64.92 L475.11,65.01 M478.4,66 L478.54,66.03 L479.01,66.1 L479.52,66.17 L480.06,66.24 L480.64,66.3 L481.22,66.36 L481.82,66.41 L482.42,66.46 L483,66.51 L483.57,66.56 L484.12,66.6 L484.62,66.63 L485.09,66.67 L485.5,66.7 M488.6,66.8 L488.74,66.81 L489.23,66.84 L489.77,66.88 L490.37,66.91 L491,66.96 L491.67,67 L492.36,67.05 L493.05,67.1 L493.74,67.15 L494.41,67.2 L495.05,67.26 L495.65,67.31 L496.21,67.35 L496.7,67.4 M499.81,67.85 L499.85,67.86 L500.12,67.9 L500.4,67.94 L500.7,67.99 L501.01,68.03 L501.32,68.07 L501.62,68.1 L501.79,68.12 M505.2,68.5 L505.35,68.52 L505.82,68.57 L506.33,68.62 L506.87,68.67 L507.43,68.73 L508.01,68.79 L508.6,68.85 L509.19,68.91 L509.78,68.97 L510.34,69.04 L510.89,69.1 L511.4,69.17 L511.87,69.23 L512.3,69.3 M514.94,70.01 L514.96,70.01 L515.19,70.09 L515.44,70.17 L515.71,70.25 L516,70.33 L516.29,70.4 L516.59,70.47 L516.87,70.53 M520.2,71.4 L520.33,71.45 L520.77,71.6 L521.23,71.77 L521.72,71.96 L522.23,72.17 L522.75,72.38 L523.28,72.59 L523.81,72.81 L524.32,73.02 L524.82,73.22 L525.29,73.42 L525.74,73.6 L526.14,73.76 L526.5,73.9 M529.1,74.8 L529.21,74.84 L529.59,74.99 L530.02,75.15 L530.48,75.32 L530.98,75.51 L531.49,75.7 L532.02,75.91 L532.56,76.11 L533.09,76.32 L533.61,76.53 L534.11,76.73 L534.58,76.93 L535.01,77.12 L535.4,77.3 M537.99,78.82 L538.01,78.84 L538.24,79 L538.47,79.16 L538.71,79.34 L538.97,79.52 L539.23,79.71 L539.5,79.91 L539.61,79.99 M542.6,82.47 L542.63,82.5 L542.89,82.72 L543.14,82.95 L543.38,83.17 L543.63,83.4 L543.88,83.64 L544.12,83.87 L544.36,84.1 L544.59,84.34 L544.83,84.58 L545.06,84.82 L545.28,85.06 L545.5,85.3 L545.72,85.55 L545.93,85.79 L546.14,86.04 L546.34,86.29 L546.54,86.55 L546.74,86.8 L546.93,87.06 L547.12,87.32 L547.31,87.58 L547.5,87.84 L547.68,88.1 L547.86,88.35 L548.04,88.61 L548.1,88.7 M549.7,91.33 L549.74,91.41 L549.9,91.67 L550.05,91.94 L550.2,92.2 L550.35,92.46 L550.5,92.71 L550.65,92.97 L550.71,93.06 M552.1,95.52 L552.15,95.6 L552.31,95.9 L552.48,96.22 L552.65,96.55 L552.83,96.88 L553.01,97.22 L553.19,97.57 L553.38,97.92 L553.56,98.27 L553.74,98.63 L553.93,98.99 L554.11,99.35 L554.3,99.71 L554.48,100.06 L554.66,100.42 L554.84,100.78 L555.03,101.15 L555.22,101.53 L555.41,101.91 L555.6,102.29 L555.79,102.67 L555.98,103.04 L556.17,103.42 L556.35,103.78 L556.52,104.13 L556.69,104.47 L556.85,104.79 L556.9,104.9 M557.37,105.87 L557.4,105.93 L557.52,106.18 L557.64,106.43 L557.75,106.66 L557.85,106.89 L557.96,107.11 L558.06,107.32 L558.16,107.53 L558.23,107.67 M559.7,110.28 L559.73,110.31 L559.84,110.44 L559.95,110.57 L560.05,110.69 L560.15,110.81 L560.26,110.92 L560.36,111.02 L560.47,111.12 L560.59,111.22 L560.71,111.31 L560.85,111.4 L560.99,111.48 L561.14,111.56 L561.31,111.63 L561.5,111.7 L561.69,111.76 L561.88,111.82 L562.07,111.87 L562.27,111.92 L562.47,111.96 L562.69,112 L562.92,112.03 L563.18,112.06 L563.45,112.09 L563.75,112.11 L564.08,112.14 L564.45,112.17 L564.86,112.19 L565.29,112.22 L565.74,112.24 L566.2,112.26 L566.68,112.28 L567.18,112.3 L567.71,112.31 L568.27,112.33 L568.87,112.34 L569.51,112.35 L570.19,112.36 L570.93,112.37 L571.73,112.38 L572.59,112.39 L573,112.4 M577.3,112.44 L577.54,112.44 L578.65,112.45 L579.3,112.46 M581.9,112.47 L582.33,112.47 L583.7,112.48 L585.14,112.49 L586.67,112.49 L588.28,112.5 L590,112.5 L591.8,112.5 M595.7,112.51 L596.5,112.51 L597.7,112.51 M602,112.51 L602.6,112.51 L605.3,112.51 L607.98,112.51 L610.56,112.5 L613.01,112.5 L614.8,112.5 M618.5,112.5 L618.96,112.5 L620.3,112.5 L620.3,112.5" stroke="#000" stroke-width="1.85" fill="none" stroke-linecap="butt"/>
<path d="M379.1,34.55 L379.14,34.56 L379.7,34.69 L380.3,34.83 L380.93,34.98 L381.58,35.13 L382.25,35.28 L382.92,35.43 L383.59,35.57 L384.25,35.7 L384.89,35.83 L385.5,35.93 L386.12,36.03 L386.7,36.12 M389.11,36.43 L389.12,36.43 L389.77,36.51 L390.42,36.58 L391.06,36.66 L391.09,36.66 M393.9,37.03 L394.07,37.06 L394.61,37.15 L395.12,37.24 L395.62,37.33 L396.1,37.42 L396.58,37.51 L397.05,37.61 L397.52,37.7 L398.01,37.79 L398.5,37.88 L399.01,37.97 L399.55,38.06 L400.11,38.14 L400.5,38.2 M404.01,38.6 L404.2,38.62 L404.9,38.69 L405.61,38.76 L406,38.8 M408.6,39.07 L408.74,39.09 L409.46,39.17 L410.18,39.26 L410.92,39.35 L411.68,39.45 L412.44,39.55 L413.21,39.66 L413.98,39.76 L414.76,39.87 L415.53,39.97 L415.6,39.98 M418.5,40.36 L418.53,40.36 L419.24,40.45 L419.93,40.52 L420.58,40.59 L421.19,40.65 L421.77,40.71 L422.34,40.75 L422.89,40.8 L423.45,40.84 L424.01,40.88 L424.58,40.93 L425.18,40.97 L425.81,41.02 L426.49,41.07 L427.22,41.13 L427.6,41.17 M431,41.47 L431.32,41.5 L432.32,41.59 L433,41.66 M436.8,42.01 L436.89,42.01 L437.97,42.11 L439.04,42.2 L440.11,42.29 L441.15,42.37 L442.2,42.45 L443.28,42.53 L444.38,42.61 L444.4,42.61 M447.6,42.81 L447.79,42.82 L448.93,42.89 L449.6,42.93 M452.3,43.1 L452.5,43.11 L453.48,43.17 L454.39,43.23 L455.24,43.28 L456,43.33 L456.67,43.38 L457.28,43.43 L457.82,43.47 L458.31,43.51 L458.76,43.55 L459.19,43.58 L459.6,43.62 L460.01,43.65 L460.42,43.68 L460.86,43.71 L461.32,43.75 L461.83,43.78 L462.39,43.81 L462.97,43.84 L463.55,43.87 L464.13,43.9 L464.73,43.92 L465.33,43.94 L465.95,43.97 L466.58,43.99 L467.23,44.02 L467.3,44.02 M470.4,44.18 L470.54,44.18 L471.33,44.23 L472.15,44.29 L472.4,44.3 M476,44.56 L476.04,44.57 L476.99,44.64 L477.94,44.71 L478.9,44.78 L479.86,44.86 L480.81,44.93 L481.76,45 L482.69,45.08 L482.7,45.08 M485.8,45.32 L485.91,45.33 L486.92,45.41 L487.8,45.48 M491,45.74 L491.24,45.76 L492.17,45.83 L493.04,45.91 L493.87,45.98 L494.62,46.04 L495.3,46.1 L495.89,46.15 L496.4,46.2 L496.84,46.24 L497.22,46.28 L497.54,46.31 L497.7,46.33 M500.3,46.64 L500.43,46.65 L500.89,46.71 L501.37,46.76 L501.86,46.82 L502.37,46.89 L502.89,46.95 L503.4,47.02 L503.92,47.08 L504.42,47.14 L504.91,47.21 L505.39,47.27 L505.84,47.33 L506.27,47.38 L506.4,47.4 M509.61,47.86 L509.7,47.87 L509.99,47.91 L510.29,47.96 L510.6,48 L510.91,48.04 L511.21,48.08 L511.5,48.12 L511.59,48.13 M514.8,48.6 L514.93,48.62 L515.36,48.7 L515.82,48.79 L516.31,48.89 L516.81,48.98 L517.33,49.09 L517.85,49.2 L518.37,49.3 L518.89,49.41 L519.4,49.52 L519.89,49.62 L520.36,49.72 L520.8,49.81 L521.2,49.9 M524.03,50.55 L524.06,50.56 L524.31,50.62 L524.56,50.69 L524.82,50.75 L525.09,50.82 L525.34,50.89 L525.58,50.95 L525.81,51.01 L525.97,51.06 M528.4,51.8 L528.52,51.84 L528.93,51.98 L529.37,52.13 L529.85,52.29 L530.35,52.46 L530.87,52.64 L531.4,52.83 L531.93,53.01 L532.45,53.2 L532.96,53.38 L533.45,53.55 L533.91,53.71 L534.33,53.86 L534.7,54 M537.7,55.2 L537.83,55.26 L538.26,55.44 L538.75,55.64 L539.28,55.86 L539.85,56.1 L540.44,56.34 L541.04,56.6 L541.65,56.85 L542.26,57.11 L542.85,57.37 L543.42,57.62 L543.96,57.86 L544.45,58.09 L544.9,58.3 M547.94,60.08 L547.97,60.1 L548.23,60.26 L548.51,60.43 L548.8,60.6 L549.1,60.77 L549.39,60.94 L549.67,61.1 M553,62.9 L553.13,62.96 L553.56,63.16 L554.03,63.37 L554.52,63.58 L555.02,63.8 L555.55,64.03 L556.07,64.25 L556.6,64.47 L557.12,64.69 L557.63,64.89 L558.12,65.09 L558.58,65.28 L559.01,65.45 L559.4,65.6 M561.84,66.41 L561.85,66.41 L562.07,66.47 L562.3,66.54 L562.54,66.62 L562.8,66.7 L563.07,66.79 L563.33,66.87 L563.59,66.96 L563.75,67.01 M566.6,68 L566.72,68.05 L567.12,68.2 L567.54,68.37 L568,68.56 L568.47,68.75 L568.95,68.95 L569.44,69.15 L569.93,69.35 L570.41,69.55 L570.88,69.75 L571.33,69.93 L571.75,70.11 L572.15,70.26 L572.5,70.4 M575.5,71.4 L575.63,71.45 L576.07,71.63 L576.55,71.82 L577.08,72.04 L577.65,72.28 L578.24,72.53 L578.85,72.78 L579.46,73.04 L580.06,73.3 L580.66,73.55 L581.23,73.79 L581.76,74.01 L582.26,74.22 L582.7,74.4 M585.57,75.52 L585.63,75.55 L585.88,75.64 L586.14,75.75 L586.41,75.86 L586.69,75.98 L586.97,76.1 L587.25,76.22 L587.42,76.3 M590,77.47 L590.09,77.51 L590.41,77.65 L590.73,77.79 L591.06,77.92 L591.39,78.06 L591.73,78.21 L592.08,78.35 L592.43,78.49 L592.78,78.64 L593.14,78.79 L593.5,78.95 L593.87,79.1 L594.24,79.26 L594.62,79.43 L595,79.6 L595.39,79.78 L595.79,79.96 L596.19,80.15 L596.5,80.3 M599.09,81.55 L599.14,81.57 L599.56,81.77 L599.97,81.96 L600.37,82.14 L600.76,82.32 L600.91,82.38 M603,83.26 L603.02,83.27 L603.39,83.42 L603.76,83.57 L604.12,83.72 L604.5,83.88 L604.87,84.03 L605.25,84.19 L605.63,84.36 L606.01,84.52 L606.4,84.69 L606.8,84.85 L607.19,85.02 L607.58,85.19 L607.98,85.36 L608.38,85.53 L608.77,85.71 L609.16,85.88 L609.5,86.03 M612,87.26 L612.05,87.28 L612.41,87.47 L612.76,87.66 L613.12,87.85 L613.47,88.04 L613.83,88.24 L614.18,88.44 L614.54,88.64 L614.9,88.85 L615.26,89.06 L615.62,89.27 L616.01,89.5 L616.41,89.75 L616.83,90.01 L617.26,90.28 L617.69,90.55 L618.11,90.82 L618.52,91.09 L618.92,91.34 L619.29,91.58 L619.63,91.8 L619.93,92 L620.1,92.11" stroke="#ff0000" stroke-width="1.85" fill="none" stroke-linecap="butt"/>
<rect x="363.5" y="23.9" width="259.0" height="208.0" fill="none" stroke="#333" stroke-width="1.15"/>
<path d="M363.5,231.9 V235.9 M363.5,23.9 V27.7 M392.28,231.9 V233.8 M392.28,23.9 V25.4 M421.06,231.9 V235.9 M421.06,23.9 V27.7 M449.83,231.9 V233.8 M449.83,23.9 V25.4 M478.61,231.9 V235.9 M478.61,23.9 V27.7 M507.39,231.9 V233.8 M507.39,23.9 V25.4 M536.17,231.9 V235.9 M536.17,23.9 V27.7 M564.94,231.9 V233.8 M564.94,23.9 V25.4 M593.72,231.9 V235.9 M593.72,23.9 V27.7 M622.5,231.9 V233.8 M622.5,23.9 V25.4 M363.5,33.7 H359.8 M363.5,53.52 H361.5 M363.5,73.34 H359.8 M363.5,93.16 H361.5 M363.5,112.98 H359.8 M363.5,132.8 H361.5 M363.5,152.62 H359.8 M363.5,172.44 H361.5 M363.5,192.26 H359.8 M363.5,212.08 H361.5 M363.5,231.9 H359.8 M622.5,24 H626.2 M622.5,48.4 H624.5 M622.5,72.8 H626.2 M622.5,97.2 H624.5 M622.5,121.6 H626.2 M622.5,146 H624.5 M622.5,170.4 H626.2 M622.5,194.8 H624.5 M622.5,219.2 H626.2" stroke="#333" stroke-width="1.05" fill="none"/>
<text transform="translate(363.5,247.8) scale(1,1.12)" font-size="10.5" text-anchor="middle">0</text>
<text transform="translate(421.06,247.8) scale(1,1.12)" font-size="10.5" text-anchor="middle">200</text>
<text transform="translate(478.61,247.8) scale(1,1.12)" font-size="10.5" text-anchor="middle">400</text>
<text transform="translate(536.17,247.8) scale(1,1.12)" font-size="10.5" text-anchor="middle">600</text>
<text transform="translate(593.72,247.8) scale(1,1.12)" font-size="10.5" text-anchor="middle">800</text>
<text transform="translate(356.8,235.7) scale(1,1.12)" font-size="10.5" text-anchor="end">95</text>
<text transform="translate(356.8,196.06) scale(1,1.12)" font-size="10.5" text-anchor="end">96</text>
<text transform="translate(356.8,156.42) scale(1,1.12)" font-size="10.5" text-anchor="end">97</text>
<text transform="translate(356.8,116.78) scale(1,1.12)" font-size="10.5" text-anchor="end">98</text>
<text transform="translate(356.8,77.14) scale(1,1.12)" font-size="10.5" text-anchor="end">99</text>
<text transform="translate(356.8,37.5) scale(1,1.12)" font-size="10.5" text-anchor="end">100</text>
<text transform="translate(629.2,27.8) scale(1,1.12)" font-size="10.5">−0.04</text>
<text transform="translate(629.2,76.6) scale(1,1.12)" font-size="10.5">−0.03</text>
<text transform="translate(629.2,125.4) scale(1,1.12)" font-size="10.5">−0.02</text>
<text transform="translate(629.2,174.2) scale(1,1.12)" font-size="10.5">−0.01</text>
<text transform="translate(629.2,223) scale(1,1.12)" font-size="10.5">0.00</text>
<text transform="translate(493.4,264.8) scale(1,1.07)" font-size="15.35" text-anchor="middle">Temprature (°C)</text>
<text transform="translate(494.5,290) scale(1,1.03)" font-size="19.2" text-anchor="middle">(b)</text>
<text transform="translate(337.9,127.9) rotate(-90) scale(1,1.04)" font-size="15.35" text-anchor="middle">Residual mass (%)</text>
<text transform="translate(673.7,127.6) rotate(-90) scale(1,1.04)" font-size="15.34" text-anchor="middle">Derivative resigual mass (% / °C)</text>
<path d="M325.9,4.35 H334.7 M339.2,4.35 H341.4 M345.3,4.35 H353.6" stroke="#000" stroke-width="1.9"/>
<text transform="translate(356.3,8.8) scale(1,1.1)" font-size="11.6">TG-Cement</text>
<path d="M415.1,4.35 H422.8 M428.3,4.35 H429.7 M434.7,4.35 H441.8" stroke="#ff0000" stroke-width="1.9"/>
<text transform="translate(445.2,8.8) scale(1,1.1)" font-size="11.6">TG-Flyash</text>
<path d="M498.8,4.5 H524.5" stroke="#7c7c7c" stroke-width="1.7"/>
<text transform="translate(528.8,8.8) scale(1,1.1)" font-size="11.6">DTG-Cement</text>
<path d="M596.4,4.4 H622.2" stroke="#f45a5e" stroke-width="1.7"/>
<text transform="translate(626.1,8.8) scale(1,1.1)" font-size="11.6">DTG-Flyash</text>
</svg></body></html>
